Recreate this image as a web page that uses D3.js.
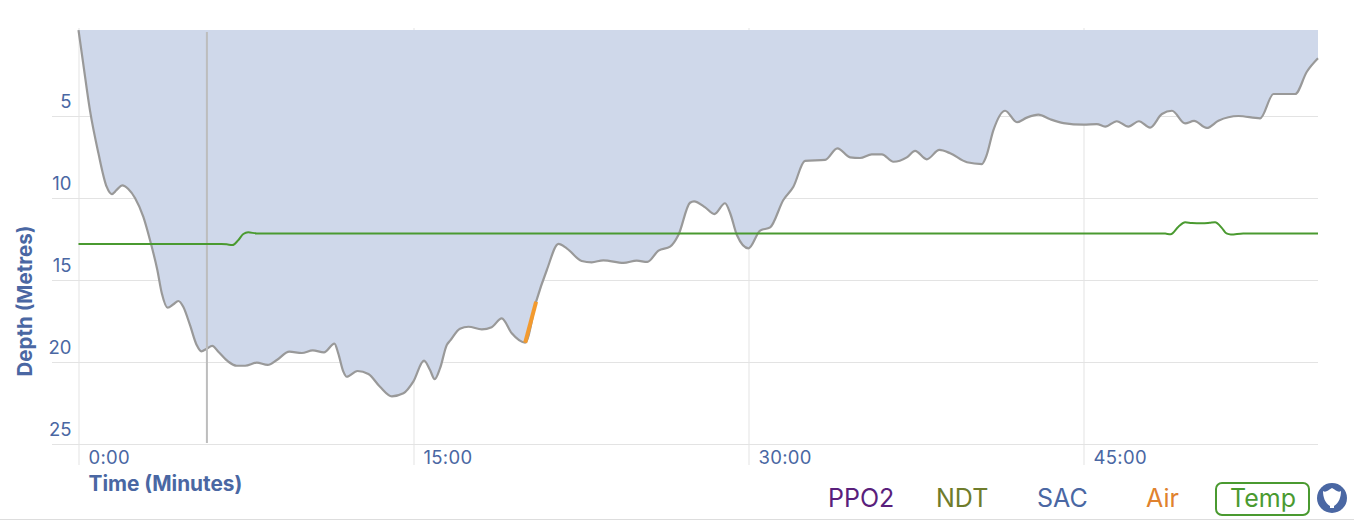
<!DOCTYPE html>
<html><head><meta charset="utf-8">
<script src="https://cdn.jsdelivr.net/npm/d3@7"></script>
<style>html,body{margin:0;padding:0;background:#fff}svg{display:block}text{font-family:Inter,Roboto,sans-serif}</style>
</head><body><svg id="c" width="1354" height="520"></svg>
<script>
const depthMinutes=[0,0.21,0.51,0.89,1.26,1.49,1.71,1.96,2.23,2.53,2.9,3.2,3.53,3.73,3.99,4.25,4.47,4.69,4.99,5.29,5.5,5.74,5.99,6.26,6.71,7.08,7.46,7.98,8.47,8.88,9.44,10,10.49,10.99,11.46,11.63,11.86,12.01,12.49,12.98,13.5,14.03,14.55,14.99,15.47,15.74,15.95,16.19,16.49,16.64,17.08,17.46,18.06,18.5,18.95,19.4,20,20.49,20.97,21.49,21.86,22.53,22.98,23.5,24.4,25,25.47,25.97,26.49,26.86,27.38,27.56,28.06,28.47,28.95,29.18,29.48,30,30.52,30.97,31.56,32.01,32.53,33.43,33.98,34.55,34.99,35.52,35.97,36.49,37.09,37.46,37.98,38.55,39.03,39.78,40.45,40.64,40.97,41.49,42.02,42.46,42.98,43.51,44.1,45,45.6,45.97,46.49,47.01,47.48,47.98,48.51,48.96,49.55,49.95,50.52,51.04,51.94,52.91,53.51,54.48,55,55.5];
const depthMetres=[-0.24,1.79,4.63,7.26,9.31,9.76,9.51,9.23,9.45,10,11.14,12.56,14.39,15.81,16.69,16.48,16.28,16.63,17.74,18.96,19.35,19.19,19.02,19.37,19.98,20.23,20.23,20.04,20.18,19.88,19.37,19.45,19.29,19.41,18.88,19.47,20.59,20.9,20.55,20.73,21.51,22.09,21.91,21.2,19.92,20.49,21.05,20.38,18.96,18.7,17.97,17.85,18.01,17.88,17.34,18.25,18.82,16.32,14.39,12.8,13.07,13.84,13.92,13.8,13.96,13.82,13.9,13.21,12.97,12.26,10.29,10.2,10.57,10.98,10.32,10.93,12.26,13.07,11.99,11.79,10.12,9.31,7.74,7.68,6.97,7.52,7.56,7.34,7.34,7.79,7.52,7.13,7.64,7.07,7.27,7.82,7.93,7.48,5.85,4.68,5.38,5.1,4.92,5.2,5.43,5.53,5.49,5.65,5.32,5.65,5.32,5.71,4.88,4.68,5.45,5.3,5.73,5.29,5,5.14,3.66,3.66,2.3,1.48];
const tempMinutes=[0,6.4,6.64,6.89,7.16,7.38,7.6,7.98,48.4,48.66,48.9,49.25,49.55,49.85,50.3,50.65,50.89,51.2,51.4,51.6,52.15,55.5];
const tempValues=[26,26,25.97,25.9,26.38,26.94,27.1,27,27,26.98,26.92,27.63,28.05,27.98,27.95,28,28.05,27.5,27,26.9,27,27];
const airMinutes=[20,20.49];
const airDepth=[18.82,16.32];
const cursorMinute=5.75;
const xTickValues=[0,15,30,45];
const yTickValues=[5,10,15,20,25];
const legendLabels=["PPO2","NDT","SAC","Air","Temp"];
const legendColors=["#5a1f7c","#6f7c2b","#4a67a3","#e0822e","#4a9a30"];
const legendX=[828,936,1037,1146,1230];

const svg=d3.select("#c");
const x=d3.scaleLinear().domain([0,55.5]).range([78.5,1318]);
const y=d3.scaleLinear().domain([0,25]).range([34,444]);
const yT=d3.scaleLinear().domain([26,27]).range([244,233.4]);
const blue="#4a67a3", grid="#e3e3e3";
const fmt=m=>m+":00";

const gy=svg.append("g").attr("transform","translate(78.5,0)").call(d3.axisLeft(y).tickValues(yTickValues).tickSize(26).tickPadding(0).tickFormat(d=>d));
gy.select(".domain").remove();
gy.selectAll(".tick line").attr("x1",-26.5).attr("x2",x.range()[1]-78.5).attr("stroke",grid);
gy.selectAll(".tick text").attr("x",-7).attr("dy",-9).attr("fill",blue).attr("font-size",18.5);
const gx=svg.append("g").attr("transform","translate(0,444)").call(d3.axisBottom(x).tickValues(xTickValues).tickFormat(fmt));
gx.select(".domain").remove();
gx.selectAll(".tick line").attr("y1",-416).attr("y2",21).attr("stroke",grid);
gx.selectAll(".tick text").attr("x",9.5).attr("y",7).attr("text-anchor","start").attr("fill",blue).attr("font-size",18.5).attr("letter-spacing",0.3);

const rows=depthMinutes.map((t,i)=>({t,d:depthMetres[i]}));
const curve=d3.curveMonotoneX;
svg.append("path").attr("d",d3.area().x(d=>x(d.t)).y0(30).y1(d=>y(d.d)).curve(curve)(rows)).attr("fill","#cfd8ea");
svg.append("path").attr("d",d3.line().x(d=>x(d.t)).y(d=>y(d.d)).curve(curve)(rows)).attr("fill","none").attr("stroke","#999").attr("stroke-width",2.2);
svg.append("line").attr("x1",x(cursorMinute)).attr("x2",x(cursorMinute)).attr("y1",32).attr("y2",443).attr("stroke","#bdbdbd").attr("stroke-width",2);
svg.append("path").attr("d",d3.line().x(d=>x(d.t)).y(d=>yT(d.v)).curve(curve)(tempMinutes.map((t,i)=>({t,v:tempValues[i]})))).attr("fill","none").attr("stroke","#4a9a30").attr("stroke-width",2);
svg.append("path").attr("d",d3.line().x(d=>x(d.t)).y(d=>y(d.d))(airMinutes.map((t,i)=>({t,d:airDepth[i]})))).attr("fill","none").attr("stroke","#f39a2e").attr("stroke-width",4);

svg.append("text").attr("transform","translate(32,301) rotate(-90)").attr("text-anchor","middle").attr("font-weight",700).attr("font-size",20.5).attr("fill",blue).text("Depth (Metres)");
svg.append("text").attr("x",88.5).attr("y",491).attr("font-weight",700).attr("font-size",20.8).attr("fill",blue).text("Time (Minutes)");

svg.selectAll("text.leg").data(legendLabels).join("text").attr("class","leg").attr("x",(d,i)=>legendX[i]).attr("y",507).attr("font-size",25).attr("fill",(d,i)=>legendColors[i]).text(d=>d);
svg.append("rect").attr("x",1216).attr("y",483).attr("width",93).attr("height",32).attr("rx",6).attr("fill","none").attr("stroke","#4a9a30").attr("stroke-width",2);
svg.append("circle").attr("cx",1332).attr("cy",498).attr("r",15).attr("fill",blue);
svg.append("path").attr("d","M1323,491 C1326,493 1328,490 1332,488 C1336,490 1338,493 1341,491 C1341,497 1339,503 1334,506 L1334,508 L1330,508 L1330,506 C1325,503 1323,497 1323,491 Z").attr("fill","#fff");
svg.append("line").attr("x1",0).attr("x2",1354).attr("y1",519.5).attr("y2",519.5).attr("stroke","#ddd");
</script></body></html>
